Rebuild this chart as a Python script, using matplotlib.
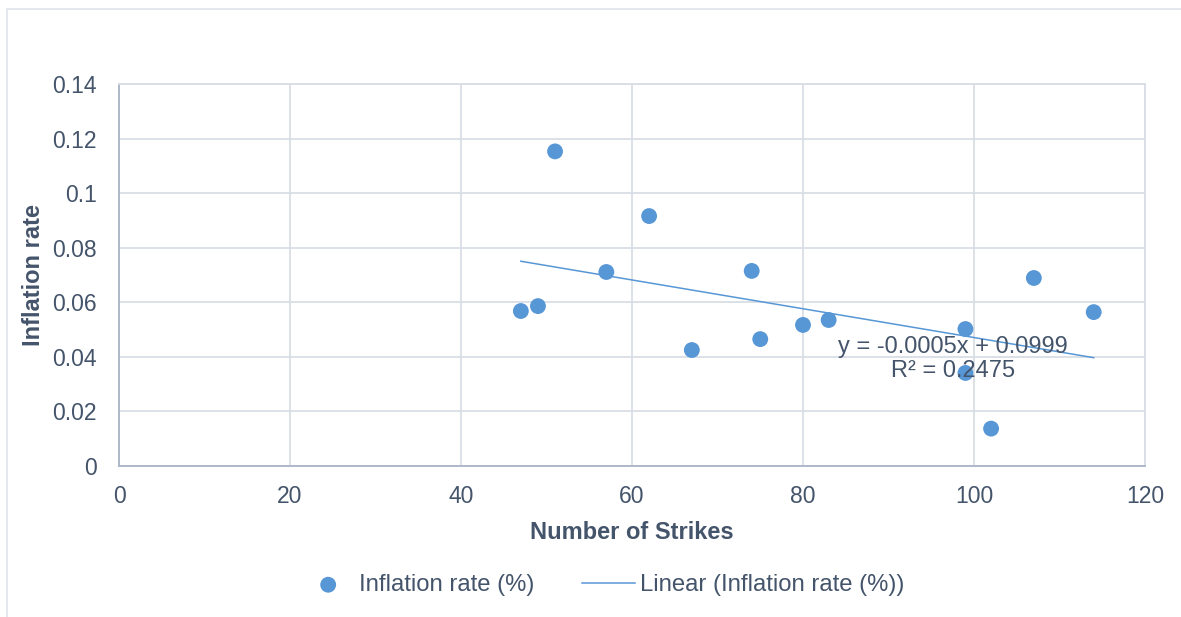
import numpy as np
import matplotlib
matplotlib.use("Agg")
import matplotlib.pyplot as plt
from matplotlib.patches import Rectangle

# Strikes vs. inflation
strikes = [47, 49, 51, 57, 62, 67, 74, 75, 80, 83, 99, 99, 102, 107, 114]
inflation = [0.0568, 0.0586, 0.1153, 0.0711, 0.0916, 0.0425, 0.0715, 0.0465,
             0.0517, 0.0535, 0.0502, 0.0341, 0.0137, 0.0689, 0.0564]

x_ticks = [0, 20, 40, 60, 80, 100, 120]
y_ticks = [0, 0.02, 0.04, 0.06, 0.08, 0.1, 0.12, 0.14]
y_tick_labels = ["0", "0.02", "0.04", "0.06", "0.08", "0.1", "0.12", "0.14"]
trend_label = "y = -0.0005x + 0.0999\nR² = 0.2475"

plt.rcParams["font.family"] = ["Liberation Sans", "DejaVu Sans"]
text_color = "#44546a"
blue = "#5797d6"
grid_color = "#d9dee6"
axis_color = "#a9b4c6"

fig = plt.figure(figsize=(11.81, 6.17), dpi=100)
fig.patches.append(Rectangle((7 / 1181, -0.1), 1.2, 1 - 9 / 617 + 0.1,
                             transform=fig.transFigure, fill=False,
                             edgecolor="#dfe3ea", linewidth=1.2))

ax = fig.add_axes([119 / 1181, 1 - 466 / 617, (1145 - 119) / 1181, (466 - 84) / 617])

ax.scatter(strikes, inflation, s=130, color=blue, zorder=3,
           edgecolors="none", label="Inflation rate (%)")

# least-squares trend line across the observed range
xs = np.array(strikes, dtype=float)
slope, intercept = np.polyfit(xs, np.array(inflation), 1)
xl = np.array([xs.min(), xs.max()])
ax.plot(xl, slope * xl + intercept, color=blue, linewidth=1.1, zorder=4,
        label="Linear (Inflation rate (%))")

ax.text(97.5, 0.0392, trend_label, ha="center", va="center",
        fontsize=17, color=text_color, linespacing=1.12, zorder=5)

ax.set_xlim(0, 120)
ax.set_ylim(0, 0.14)
ax.set_xticks(x_ticks)
ax.set_yticks(y_ticks)
ax.set_yticklabels(y_tick_labels)
ax.grid(True, color=grid_color, linewidth=1.3, zorder=0)
ax.set_axisbelow(True)
ax.tick_params(length=0, labelsize=16.5, labelcolor=text_color)
ax.tick_params(axis="y", pad=16)
ax.tick_params(axis="x", pad=14)
for side in ("top", "right"):
    ax.spines[side].set_color(grid_color)
    ax.spines[side].set_linewidth(1.3)
for side in ("left", "bottom"):
    ax.spines[side].set_color(axis_color)
    ax.spines[side].set_linewidth(1.3)

ax.set_xlabel("Number of Strikes", fontsize=17, fontweight="bold",
              color=text_color, labelpad=9)
ax.set_ylabel("Inflation rate", fontsize=17, fontweight="bold",
              color=text_color, labelpad=5)

handles, labels = ax.get_legend_handles_labels()
fig.legend(handles, labels, loc="center", bbox_to_anchor=(603 / 1181, 1 - 585 / 617),
           ncol=2, frameon=False, fontsize=17.2, labelcolor=text_color,
           handlelength=2.2, columnspacing=2.0, handletextpad=0.2)

fig.savefig("out.png", dpi=100)
